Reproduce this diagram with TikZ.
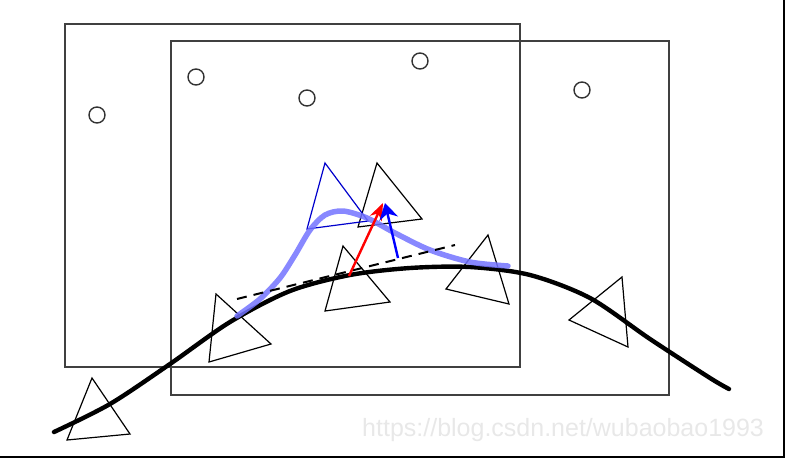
\documentclass[tikz,border=0pt]{standalone}
\usepackage{fontspec}
\setsansfont{Liberation Sans}
\usetikzlibrary{arrows.meta}

\begin{document}
\begin{tikzpicture}[x=1pt, y=-1pt,
  frame/.style={draw=black!75, line width=1.2pt},
  landmark/.style={circle, draw=black!80, line width=1.4pt, minimum size=16pt, inner sep=0pt},
  pose/.style={draw=black, line width=1.2pt},
  guess/.style={draw=blue!80!black, line width=1.2pt},
  truth/.style={line width=4.4pt, line cap=round},
  belief/.style={draw=blue!55, line width=5.5pt, opacity=0.85, line cap=round},
  arr/.style={line width=2.4pt}
]
\useasboundingbox (0,0) rectangle (788,459);
% screenshot edge
\draw[line width=1.8pt] (784,0) -- (784,457) -- (0,457);

% two map windows
\draw[frame] (65,24) rectangle (520,367);
\draw[frame] (171,41) rectangle (669,395);

% landmarks
\node[landmark] (m1) at (97,115) {};
\node[landmark] (m2) at (196,77) {};
\node[landmark] (m3) at (307,98) {};
\node[landmark] (m4) at (420,61) {};
\node[landmark] (m5) at (582,90) {};

% poses along the path
\draw[pose] (92,378) -- (67,440) -- (130,434) -- cycle;
\draw[pose] (216,294) -- (209,362) -- (271,344) -- cycle;
\draw[pose] (343,246) -- (325,311) -- (390,302) -- cycle;
\draw[pose] (377,163) -- (358,227) -- (422,219) -- cycle;
\draw[pose] (488,235) -- (446,289) -- (509,304) -- cycle;
\draw[pose] (622,277) -- (569,320) -- (628,347) -- cycle;
\draw[guess] (325,163) -- (307,229) -- (368,221) -- cycle;

% true trajectory
\draw[truth] plot[smooth, tension=0.5] coordinates {(54,432) (110,404) (170,364) (230,322) (290,291) (350,275) (410,268) (470,267) (530,275) (590,298) (650,339) (710,378) (729,389)};

% predicted distribution
\draw[belief] plot[smooth, tension=0.5] coordinates {(237,316) (260,299) (280,278) (295,255) (310,230) (325,215) (343,211) (367,218) (395,233) (430,250) (470,262) (508,266)};

% linear motion guess
\draw[line width=2pt, dash pattern=on 10pt off 7pt] (237,299) -- (455,245);

% correction arrows
\coordinate (r0) at (349,276);
\coordinate (r1) at (383,203);
\coordinate (b0) at (398,258);
\coordinate (b1) at (385,203);
\draw[arr, red, -{Stealth[length=17pt, width=13pt]}] (r0) -- (r1);
\draw[arr, blue, -{Stealth[length=16pt, width=19pt]}] (b0) -- (b1);

% watermark
\node[text=black!9, font=\sffamily\fontsize{25}{25}\selectfont, anchor=west, inner sep=0pt] (wm) at (362,430) {https://blog.csdn.net/wubaobao1993};
\end{tikzpicture}
\end{document}
